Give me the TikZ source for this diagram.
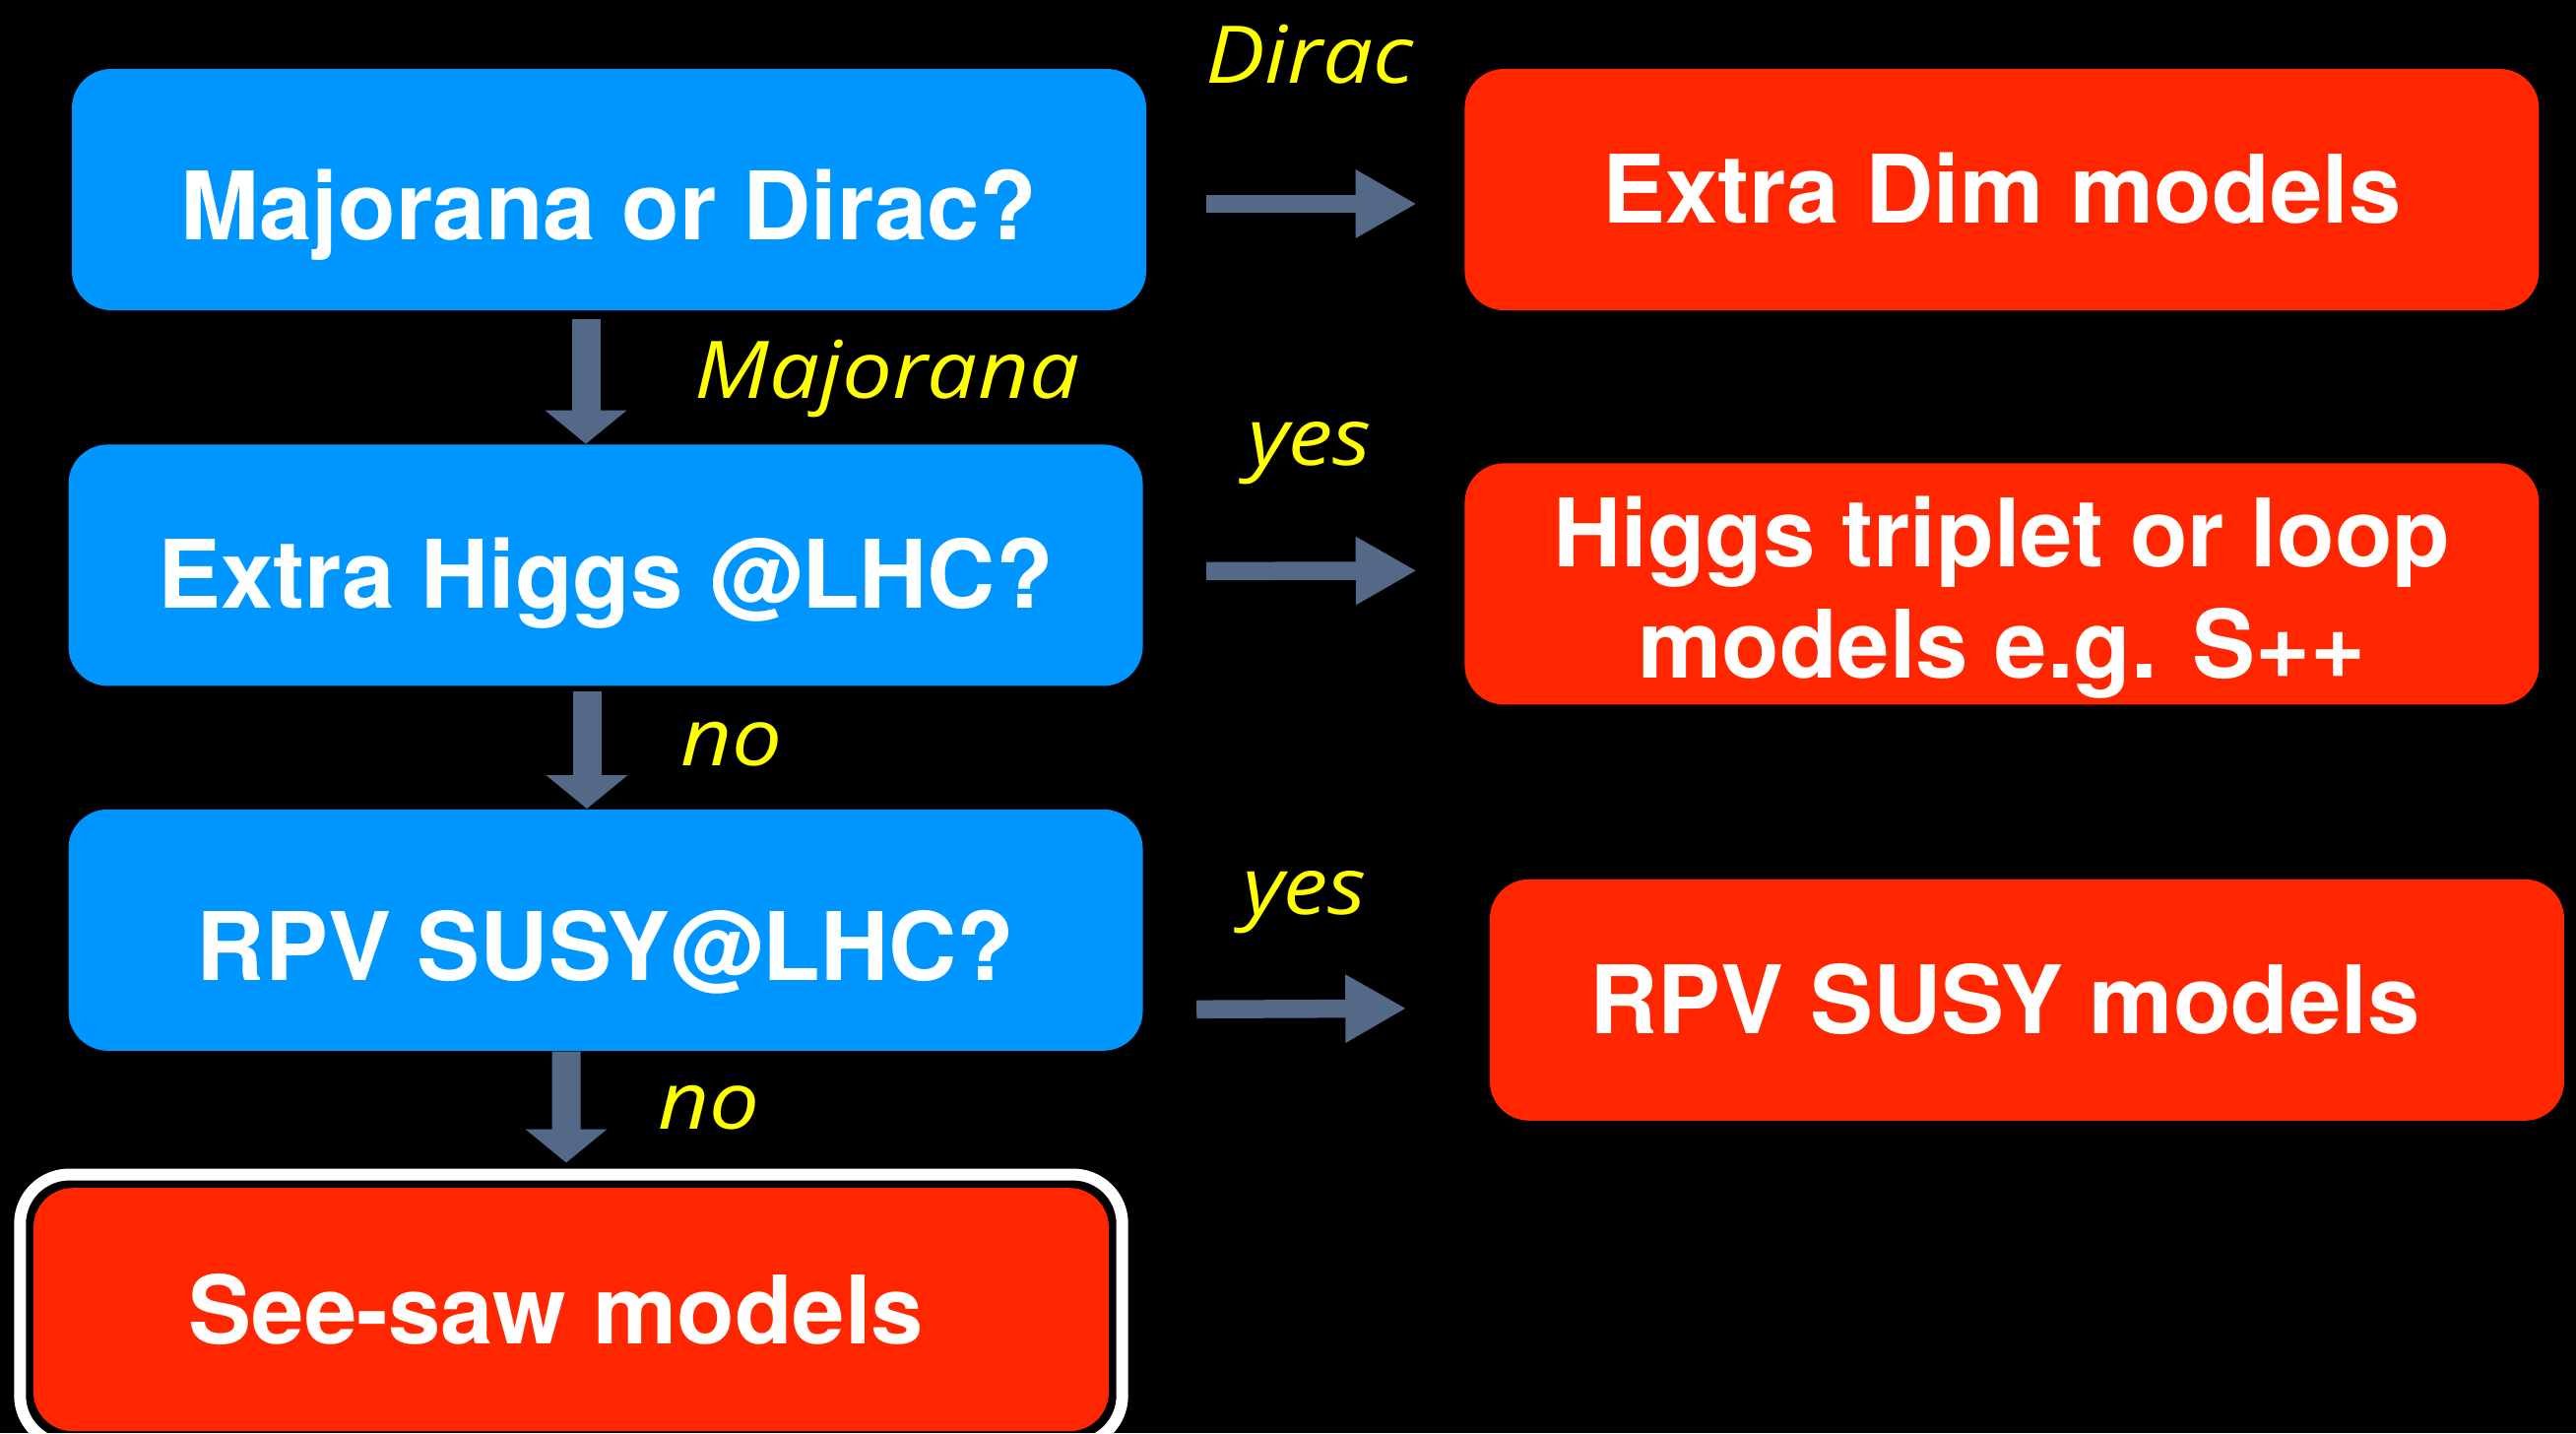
\documentclass[tikz,border=0pt]{standalone}
\usepackage{fontspec}
\setmainfont{TeX Gyre Heros}
\newfontfamily\handfont{Open Sans}[FakeStretch=1.12]
\usetikzlibrary{positioning}
\usetikzlibrary{arrows.meta}
\usetikzlibrary{fit}
\definecolor{qblue}{RGB}{0,150,255}
\definecolor{mred}{RGB}{255,38,0}
\definecolor{slate}{RGB}{84,105,136}
\definecolor{chalk}{RGB}{255,255,0}

\begin{document}
\begin{tikzpicture}[
    every node/.style={font=\fontsize{27.3}{32.2}\selectfont\bfseries, text=white},
    question/.style={fill=qblue, rounded corners=0.4cm, minimum width=10.91cm, minimum height=2.45cm, inner sep=0pt, align=center, text height=1.03cm, text depth=0pt},
    model/.style={fill=mred, rounded corners=0.4cm, minimum width=10.91cm, minimum height=2.45cm, inner sep=0pt, align=center},
    answer/.style={font=\handfont\itshape\fontsize{23}{26}\selectfont, text=chalk},
    down/.style={draw=slate, line width=0.29cm, -{Triangle[width=0.81cm,length=0.34cm]}},
    across/.style={draw=slate, line width=0.185cm, -{Triangle[width=0.65cm,length=0.62cm]}}
]
\fill[black] (0,0) rectangle (26.16,-14.55);
\useasboundingbox (0,0) rectangle (26.16,-14.55);

\node[question] (majdir) at (6.185,-1.925) {Majorana or Dirac?};
\node[question, below=1.35cm of majdir, xshift=-0.035cm, text height=0.87cm] (higgs) {Extra Higgs @LHC?};
\node[question, below=1.24cm of higgs] (rpv) {RPV SUSY@LHC?};
\node[model, below=1.38cm of rpv, xshift=-0.35cm, minimum width=10.92cm, minimum height=2.47cm, text height=0.69cm, text depth=0pt] (seesaw) {See-saw models\hspace{0.3cm}};
\node[draw=white, line width=0.12cm, rounded corners=0.5cm, inner sep=0.13cm, fit=(seesaw)] (frame) {};

\node[model, right=3.22cm of majdir, text height=0.69cm, text depth=0pt] (extradim) {Extra Dim models};
\node[model, below=1.54cm of extradim, text height=1.91cm, text depth=0pt] (triplet) {Higgs triplet or loop\\models e.g. S++};
\node[model, below=1.76cm of triplet, xshift=0.255cm, text height=0.69cm, text depth=0pt] (rpvmod) {RPV SUSY models\hspace{0.45cm}};

\draw[down] ([xshift=-0.235cm, yshift=-0.08cm]majdir.south) -- ([xshift=-0.2cm]higgs.north);
\draw[down] ([xshift=-0.19cm, yshift=-0.05cm]higgs.south) -- ([xshift=-0.19cm]rpv.north);
\draw[down] ([xshift=-0.40cm]rpv.south) -- ([xshift=-0.05cm, yshift=0.06cm]frame.north);

\draw[across] ([xshift=0.60cm, yshift=-0.145cm]majdir.east) -- ([xshift=-0.48cm, yshift=-0.145cm]extradim.west);
\draw[across] ([xshift=0.64cm, yshift=-0.06cm]higgs.east) -- ([xshift=-0.48cm, yshift=0.135cm]triplet.west);
\draw[across] ([xshift=0.54cm, yshift=-0.805cm]rpv.east) -- ([xshift=-0.84cm, yshift=-0.085cm]rpvmod.west);

\node[answer] (dirac) at (13.30,-0.55) {Dirac};
\node[answer] (majorana) at (9.01,-3.85) {Majorana};
\node[answer] (yes1) at (13.30,-4.60) {yes};
\node[answer] (no1) at (7.43,-7.56) {no};
\node[answer] (yes2) at (13.25,-9.16) {yes};
\node[answer] (no2) at (7.20,-11.25) {no};
\end{tikzpicture}
\end{document}
